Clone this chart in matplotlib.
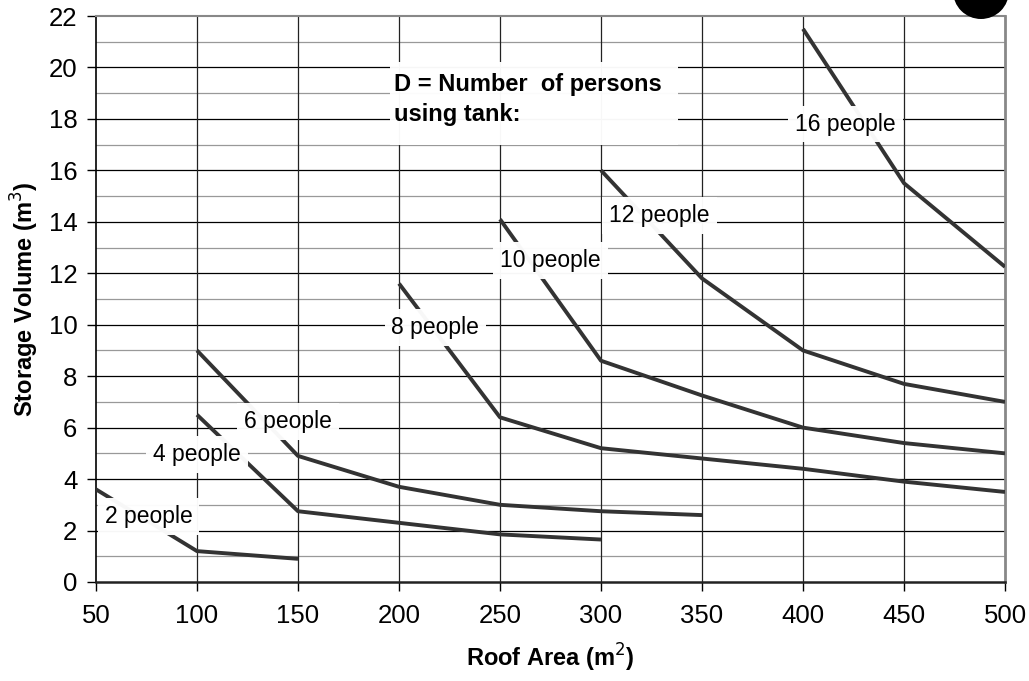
import matplotlib
matplotlib.use("Agg")
import matplotlib.pyplot as plt
from matplotlib.patches import Circle, Rectangle

plt.rcParams['font.family'] = ['Liberation Sans', 'DejaVu Sans']

roof_area = [50, 100, 150, 200, 250, 300, 350, 400, 450, 500]

series = {
    "2 people":  ([50, 100, 150], [3.6, 1.2, 0.9]),
    "4 people":  ([100, 150, 200, 250, 300], [6.5, 2.75, 2.3, 1.85, 1.65]),
    "6 people":  ([100, 150, 200, 250, 300, 350], [9.0, 4.9, 3.7, 3.0, 2.75, 2.6]),
    "8 people":  ([200, 250, 300, 350, 400, 450, 500], [11.6, 6.4, 5.2, 4.8, 4.4, 3.9, 3.5]),
    "10 people": ([250, 300, 350, 400, 450, 500], [14.1, 8.6, 7.25, 6.0, 5.4, 5.0]),
    "12 people": ([300, 350, 400, 450, 500], [16.0, 11.8, 9.0, 7.7, 7.0]),
    "16 people": ([400, 450, 500], [21.5, 15.5, 12.25]),
}

label_pos = {
    "2 people":  (76, 2.55),
    "4 people":  (100, 4.95),
    "6 people":  (145, 6.25),
    "8 people":  (218, 9.9),
    "10 people": (275, 12.5),
    "12 people": (329, 14.25),
    "16 people": (421, 17.8),
}

fig = plt.figure(figsize=(10.29, 6.81), dpi=100)
ax = fig.add_axes([0.0933, 0.1454, 0.9767 - 0.0933, 0.9765 - 0.1454])

ax.set_xlim(50, 500)
ax.set_ylim(0, 22)
ax.set_xticks(roof_area)
ax.set_yticks(range(0, 23, 2))
ax.set_yticks(range(1, 22, 2), minor=True)

# grid
for yv in range(2, 22, 2):
    ax.axhline(yv, color='black', lw=0.9, zorder=1)
for yv in range(1, 22, 2):
    ax.axhline(yv, color='#999999', lw=0.9, zorder=1)
for xv in roof_area[1:-1]:
    ax.axvline(xv, color='#222222', lw=0.9, zorder=1)

for name, (xs, ys) in series.items():
    ax.plot(xs, ys, color='#333333', lw=2.8, solid_capstyle='butt', zorder=3)

for name, (lx, ly) in label_pos.items():
    ax.text(lx, ly, name, fontsize=16.5, ha='center', va='center', zorder=4,
            bbox=dict(facecolor='white', edgecolor='none', pad=5, alpha=0.97))

# white box behind the heading text
ax.add_patch(Rectangle((195.5, 17.0), 142.5, 3.2, facecolor='white', edgecolor='none',
                       alpha=0.97, zorder=4))
ax.text(197.5, 18.75, "D = Number  of persons\nusing tank:", fontsize=17, fontweight='bold',
        ha='left', va='center', zorder=5, linespacing=1.38)

ax.spines['left'].set_color('black')
ax.spines['left'].set_linewidth(1.2)
ax.spines['bottom'].set_color('#222222')
ax.spines['bottom'].set_linewidth(1.8)
ax.spines['top'].set_color('#888888')
ax.spines['top'].set_linewidth(1.5)
ax.spines['right'].set_color('#888888')
ax.spines['right'].set_linewidth(2.0)

ax.tick_params(axis='both', which='major', labelsize=18.5, length=6.5, width=1, direction='out')
ax.tick_params(axis='y', which='major', pad=7)
ax.tick_params(axis='x', which='major', pad=9)
ax.tick_params(axis='y', which='minor', length=0)

ax.set_xlabel("Roof Area (m$^2$)", fontsize=17, fontweight='bold')
ax.set_ylabel("Storage Volume (m$^3$)", fontsize=17, fontweight='bold')
ax.xaxis.set_label_coords(0.5, -0.106)
ax.yaxis.set_label_coords(-0.061, 0.5)

fig.patches.append(Circle((981, 681 + 9), 28, transform=None, facecolor='black',
                          edgecolor='none', figure=fig))

fig.savefig("out.png", dpi=100)
